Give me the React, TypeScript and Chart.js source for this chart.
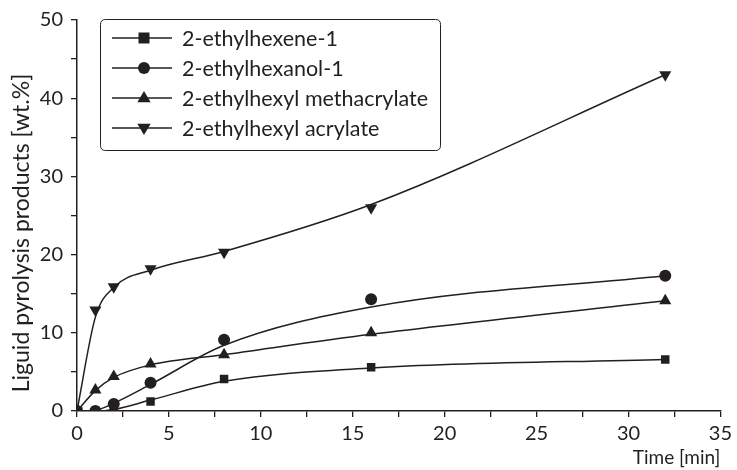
import React, { useEffect, useRef } from "react";
import { Chart, registerables } from "chart.js";

Chart.register(...registerables);

const times = [0, 1, 2, 4, 8, 16, 32];
const seriesNames = [
  "2-ethylhexene-1",
  "2-ethylhexanol-1",
  "2-ethylhexyl methacrylate",
  "2-ethylhexyl acrylate",
];
const hexenePoints = [0, 0, 0.05, 1.2, 4.1, 5.6, 6.6];
const hexanolPoints = [0, 0, 0.9, 3.6, 9.1, 14.3, 17.3];
const methacrylatePoints = [0, 2.7, 4.4, 6.0, 7.2, 10.0, 14.1];
const acrylatePoints = [0, 12.9, 15.9, 18.2, 20.3, 26.0, 43.0];

const hexeneFit = [0, 0, 0.2, 1.4, 3.8, 5.5, 6.6];
const hexanolFit = [0, 0.1, 1.0, 3.4, 8.4, 13.3, 17.3];
const methacrylateFit = [0, 2.6, 4.3, 5.9, 7.2, 9.8, 14.1];
const acrylateFit = [0, 12.0, 15.8, 18.0, 20.4, 26.4, 43.0];

const xTicks = [0, 5, 10, 15, 20, 25, 30, 35];
const yTicks = [0, 10, 20, 30, 40, 50];
const yTitle = "Liguid pyrolysis products [wt.%]";
const xTitle = "Time [min]";

const INK = "#231f20";
const FONT = "Lato, 'Open Sans', sans-serif";
const markerStyles = ["rect", "circle", "triangle", "triangle"];
const markerRot = [0, 0, 0, 180];
const markerRadius = [6, 6, 7, 7];

function drawMarker(ctx: CanvasRenderingContext2D, idx: number, x: number, y: number) {
  const r = markerRadius[idx];
  ctx.save();
  ctx.fillStyle = INK;
  ctx.beginPath();
  if (idx === 0) {
    ctx.rect(x - r + 0.5, y - r + 0.5, 2 * r - 1, 2 * r - 1);
  } else if (idx === 1) {
    ctx.arc(x, y, r, 0, Math.PI * 2);
  } else if (idx === 2) {
    ctx.moveTo(x, y - r);
    ctx.lineTo(x + r * 0.95, y + r * 0.6);
    ctx.lineTo(x - r * 0.95, y + r * 0.6);
    ctx.closePath();
  } else {
    ctx.moveTo(x, y + r);
    ctx.lineTo(x + r * 0.95, y - r * 0.6);
    ctx.lineTo(x - r * 0.95, y - r * 0.6);
    ctx.closePath();
  }
  ctx.fill();
  ctx.restore();
}

const legendPlugin = {
  id: "customLegend",
  afterDraw(chart: any) {
    const ctx = chart.ctx as CanvasRenderingContext2D;
    const left = 100.5, top = 19.5, w = 340, h = 131;
    ctx.save();
    ctx.strokeStyle = INK;
    ctx.lineWidth = 1;
    ctx.beginPath();
    const rr = 5;
    ctx.moveTo(left + rr, top);
    ctx.lineTo(left + w - rr, top);
    ctx.quadraticCurveTo(left + w, top, left + w, top + rr);
    ctx.lineTo(left + w, top + h - rr);
    ctx.quadraticCurveTo(left + w, top + h, left + w - rr, top + h);
    ctx.lineTo(left + rr, top + h);
    ctx.quadraticCurveTo(left, top + h, left, top + h - rr);
    ctx.lineTo(left, top + rr);
    ctx.quadraticCurveTo(left, top, left + rr, top);
    ctx.stroke();
    ctx.font = `21.5px ${FONT}`;
    ctx.fillStyle = INK;
    ctx.textBaseline = "middle";
    seriesNames.forEach((name, i) => {
      const y = 38 + i * 30;
      ctx.beginPath();
      ctx.lineWidth = 1.4;
      ctx.moveTo(112, y);
      ctx.lineTo(172, y);
      ctx.stroke();
      drawMarker(ctx, i, 144, y);
      ctx.fillText(name, 182, y + 1);
    });
    // y-axis title
    ctx.translate(22, 233);
    ctx.rotate(-Math.PI / 2);
    ctx.textAlign = "center";
    ctx.font = `23px ${FONT}`;
    ctx.fillText(yTitle, 0, 0);
    ctx.restore();
  },
};

export default function App() {
  const ref = useRef<HTMLCanvasElement | null>(null);
  useEffect(() => {
    document.body.style.margin = "0";
    const pts = [hexenePoints, hexanolPoints, methacrylatePoints, acrylatePoints];
    const fits = [hexeneFit, hexanolFit, methacrylateFit, acrylateFit];
    const datasets: any[] = [];
    fits.forEach((f, i) => {
      datasets.push({
        label: seriesNames[i] + " fit",
        data: times.map((t, j) => ({ x: t, y: f[j] })),
        borderColor: INK,
        borderWidth: 1.5,
        pointRadius: 0,
        cubicInterpolationMode: "monotone",
        fill: false,
        order: 2,
      });
    });
    pts.forEach((p, i) => {
      datasets.push({
        label: seriesNames[i],
        data: times.map((t, j) => ({ x: t, y: p[j] })),
        showLine: false,
        pointStyle: markerStyles[i],
        rotation: markerRot[i],
        pointRadius: markerRadius[i],
        pointBackgroundColor: INK,
        pointBorderColor: INK,
        pointBorderWidth: 0,
        order: 1,
      });
    });
    const chart = new Chart(ref.current!, {
      type: "line",
      data: { datasets },
      options: {
        animation: false,
        responsive: false,
        maintainAspectRatio: false,
        layout: { padding: { top: 20, right: 14, left: 0, bottom: 0 } },
        plugins: { legend: { display: false }, tooltip: { enabled: false } },
        scales: {
          x: {
            type: "linear",
            min: 0,
            max: 35,
            border: { color: INK, width: 1.5 },
            grid: { drawOnChartArea: false, drawTicks: true, tickLength: 6, color: INK, lineWidth: 1.3 },
            ticks: {
              stepSize: 2.5,
              autoSkip: false,
              maxRotation: 0,
              color: INK,
              font: { family: FONT, size: 20 },
              padding: 5,
              callback: (v: any) => (xTicks.includes(Number(v)) ? String(v) : ""),
            },
            title: {
              display: true,
              text: xTitle,
              align: "end",
              color: INK,
              font: { family: FONT, size: 19 },
              padding: { top: 0, bottom: 1 },
            },
            afterFit: (s: any) => {
              s.height = 59;
            },
          },
          y: {
            min: 0,
            max: 50,
            border: { color: INK, width: 1.5 },
            grid: { drawOnChartArea: false, drawTicks: true, tickLength: 6, color: INK, lineWidth: 1.3 },
            ticks: {
              stepSize: 5,
              autoSkip: false,
              color: INK,
              font: { family: FONT, size: 20 },
              padding: 8,
              callback: (v: any) => (yTicks.includes(Number(v)) ? String(v) : ""),
            },
            afterFit: (s: any) => {
              s.width = 77;
            },
          },
        },
      },
      plugins: [legendPlugin],
    });
    return () => chart.destroy();
  }, []);
  return <canvas ref={ref} width={737} height={470} style={{ display: "block" }} />;
}
